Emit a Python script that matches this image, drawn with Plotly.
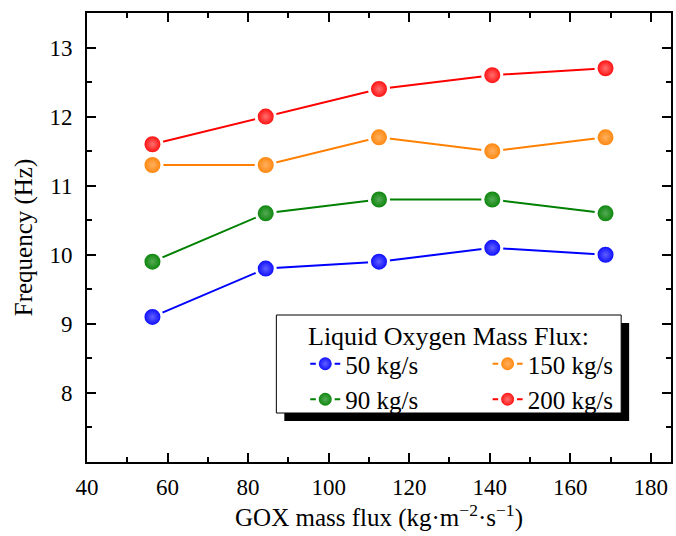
import plotly.graph_objects as go

gox_flux = [56.25, 84.375, 112.5, 140.625, 168.75]
freq_50 = [9.1, 9.8, 9.9, 10.1, 10.0]
freq_90 = [9.9, 10.6, 10.8, 10.8, 10.6]
freq_150 = [11.3, 11.3, 11.7, 11.5, 11.7]
freq_200 = [11.6, 12.0, 12.4, 12.6, 12.7]

series = [
    ("50 kg/s", freq_50, "#0000FF", "#6060FF", "legend"),
    ("90 kg/s", freq_90, "#008000", "#55AA55", "legend"),
    ("150 kg/s", freq_150, "#FF8000", "#FFB060", "legend2"),
    ("200 kg/s", freq_200, "#FF0000", "#FF7070", "legend2"),
]

FONT = "Liberation Serif, Times New Roman, serif"
L, R, T, B = 87, 673, 13, 462
PW, PH = R - L, B - T


def px(xp):
    return (xp - L) / PW


def py(yp):
    return (B - yp) / PH


fig = go.Figure()
for name, vals, col, light, leg in series:
    fig.add_trace(go.Scatter(
        x=gox_flux, y=vals, name=name, mode="lines+markers", legend=leg,
        line=dict(color=col, width=2),
        marker=dict(size=19, color=col, line=dict(color="white", width=3),
                    gradient=dict(type="radial", color=light)),
    ))

# legend box with shadow
fig.add_shape(type="rect", xref="paper", yref="paper",
              x0=px(285), x1=px(631), y0=py(421), y1=py(323),
              fillcolor="black", line=dict(width=0), layer="above")
fig.add_shape(type="rect", xref="paper", yref="paper",
              x0=px(277), x1=px(623), y0=py(413), y1=py(315),
              fillcolor="white", line=dict(color="black", width=1), layer="above")
fig.add_annotation(text="Liquid Oxygen Mass Flux:", xref="paper", yref="paper",
                   x=px(450), y=py(336), xanchor="center", yanchor="middle",
                   showarrow=False, font=dict(family=FONT, size=26, color="black"))

legcommon = dict(yanchor="top", xanchor="left", orientation="v",
                 bgcolor="rgba(0,0,0,0)", borderwidth=0,
                 font=dict(family=FONT, size=25, color="black"),
                 itemsizing="trace", tracegroupgap=0)

fig.update_layout(
    width=676, height=536,
    margin=dict(l=L, r=676 - R, t=T, b=536 - B),
    plot_bgcolor="white", paper_bgcolor="white",
    font=dict(family=FONT, color="black", size=22),
    showlegend=True,
    legend=dict(x=px(306), y=py(341), **legcommon),
    legend2=dict(x=px(489), y=py(341), **legcommon),
    xaxis=dict(
        range=[40, 185], tickmode="array",
        tickvals=[40, 60, 80, 100, 120, 140, 160, 180],
        ticks="inside", ticklen=9, tickwidth=2, tickcolor="black",
        minor=dict(tickvals=[50, 70, 90, 110, 130, 150, 170], ticks="inside",
                   ticklen=5, tickwidth=2, tickcolor="black"),
        showline=True, linecolor="black", linewidth=2, mirror="ticks",
        showgrid=False, zeroline=False,
        tickfont=dict(family=FONT, size=23),
        ticklabelstandoff=3,
        title=dict(text="GOX mass flux (kg·m<sup>−2</sup>·s<sup>−1</sup>)",
                   font=dict(family=FONT, size=25), standoff=8),
    ),
    yaxis=dict(
        range=[7, 13.5], tickmode="array",
        tickvals=[8, 9, 10, 11, 12, 13],
        ticks="inside", ticklen=9, tickwidth=2, tickcolor="black",
        minor=dict(tickvals=[7.5, 8.5, 9.5, 10.5, 11.5, 12.5], ticks="inside",
                   ticklen=5, tickwidth=2, tickcolor="black"),
        showline=True, linecolor="black", linewidth=2, mirror="ticks",
        showgrid=False, zeroline=False,
        tickfont=dict(family=FONT, size=23),
        ticklabelstandoff=8,
        title=dict(text="Frequency (Hz)", font=dict(family=FONT, size=25), standoff=10),
    ),
)

fig.write_html("out.html")
